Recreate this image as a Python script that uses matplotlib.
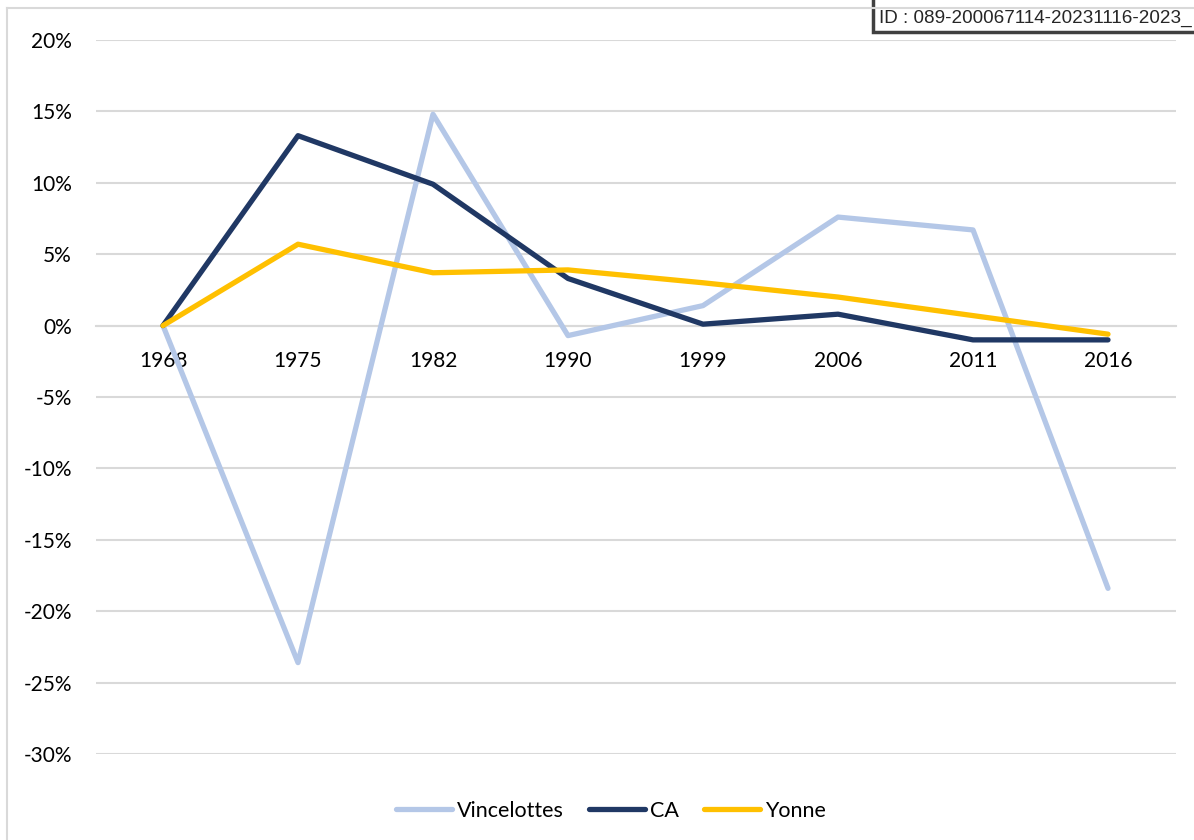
import matplotlib
matplotlib.use("Agg")
import matplotlib.pyplot as plt
from matplotlib.lines import Line2D
from matplotlib.patches import Rectangle
from matplotlib.ticker import FuncFormatter

years = ["1968", "1975", "1982", "1990", "1999", "2006", "2011", "2016"]
vincelottes = [0.0, -23.6, 14.8, -0.7, 1.4, 7.6, 6.7, -18.4]
ca = [0.0, 13.3, 9.9, 3.3, 0.1, 0.8, -1.0, -1.0]
yonne = [0.0, 5.7, 3.7, 3.9, 3.0, 2.0, 0.7, -0.6]
series_names = ["Vincelottes", "CA", "Yonne"]
colors = ["#B4C7E7", "#203864", "#FFC000"]
y_ticks = [20, 15, 10, 5, 0, -5, -10, -15, -20, -25, -30]
id_text = "ID : 089-200067114-20231116-2023_"

W, H = 1194, 840
fig = plt.figure(figsize=(W / 100, H / 100), dpi=100)
fig.patch.set_facecolor("white")

def fx(px):
    return px / W

def fy(py):
    return 1 - py / H

# chart area border (light grey)
fig.add_artist(Line2D([fx(7), fx(7)], [fy(8), fy(845)], color="#D9D9D9", lw=1.5))
fig.add_artist(Line2D([fx(7), fx(1200)], [fy(8), fy(8)], color="#D9D9D9", lw=1.5))

ax = fig.add_axes([fx(95.5), fy(754), fx(1175.5) - fx(95.5), fy(40) - fy(754)])
ax.set_facecolor("none")

x = list(range(len(years)))
for vals, name, c in zip([vincelottes, ca, yonne], series_names, colors):
    ax.plot(x, vals, color=c, lw=3.8, label=name,
            solid_capstyle="round", solid_joinstyle="round", zorder=3)

ax.set_xlim(-0.5, len(years) - 0.5)
ax.set_ylim(-30, 20)
ax.set_yticks(y_ticks)
ax.yaxis.set_major_formatter(FuncFormatter(lambda v, p: f"{int(round(v))}%"))
ax.set_xticks(x)
ax.set_xticklabels(years)
ax.grid(axis="y", color="#D9D9D9", lw=1.5, zorder=0)
ax.grid(axis="x", visible=False)
for s in ["top", "right", "left"]:
    ax.spines[s].set_visible(False)
ax.spines["bottom"].set_position(("data", 0))
ax.spines["bottom"].set_color("#D9D9D9")
ax.spines["bottom"].set_linewidth(1.5)
ax.spines["bottom"].set_zorder(0)
ax.tick_params(axis="x", length=0, pad=18, labelsize=15, labelcolor="black")
ax.tick_params(axis="y", length=0, pad=17, labelsize=15, labelcolor="black")
for lab in ax.get_xticklabels() + ax.get_yticklabels():
    lab.set_fontfamily("Lato")

leg = fig.legend(loc="center", bbox_to_anchor=(fx(611), fy(811)), ncol=3,
                 frameon=False, handlelength=2.6, handletextpad=0.25,
                 columnspacing=1.15, prop={"family": "Lato", "size": 15.5})

# ID box
fig.add_artist(Rectangle((fx(873), fy(32)), fx(1220) - fx(873), fy(-10) - fy(32),
                         facecolor="white", edgecolor="#404040", lw=2.5,
                         transform=fig.transFigure, clip_on=False))
fig.text(fx(879), fy(18), id_text, fontsize=13.6, family="Liberation Sans",
         color="#262626", va="center", ha="left")

fig.savefig("out.png", dpi=100, facecolor="white")
